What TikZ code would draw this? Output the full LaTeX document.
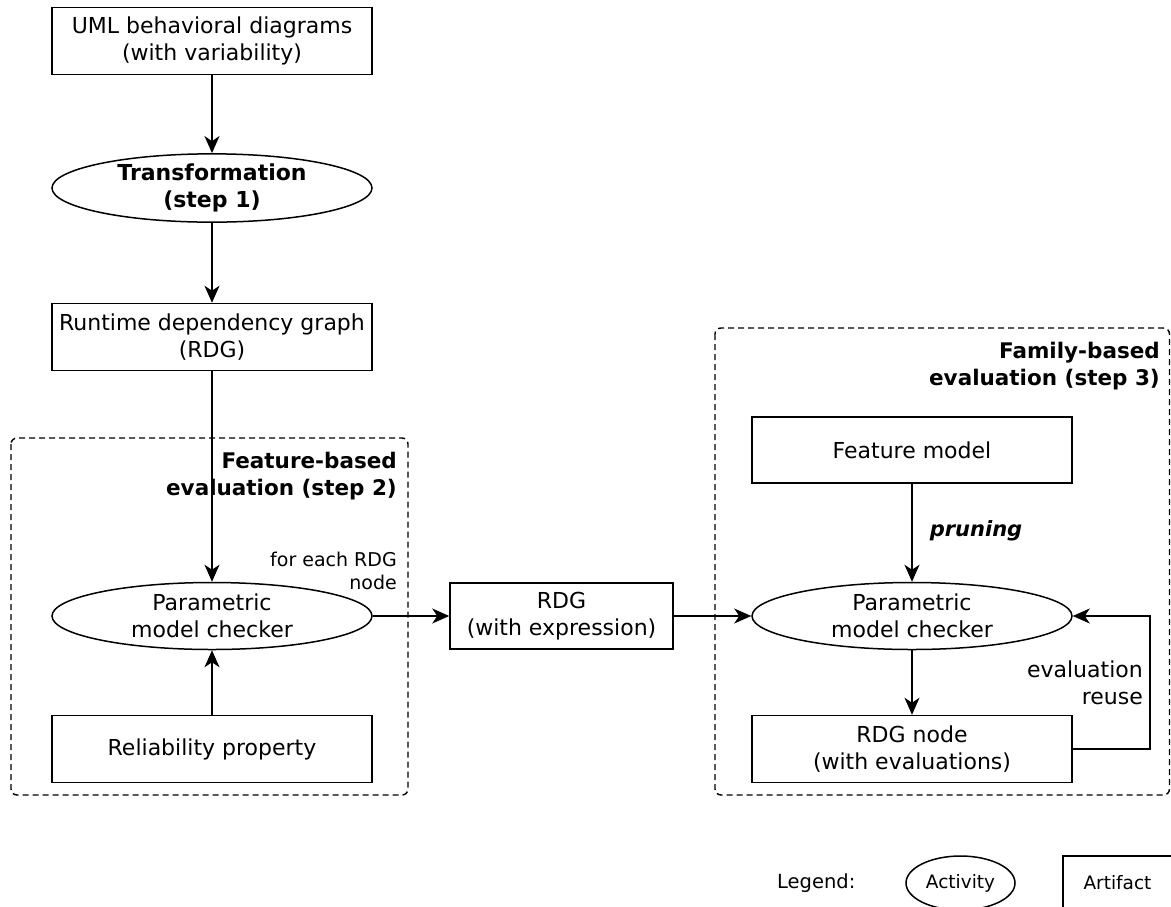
\documentclass[tikz,border=0pt]{standalone}
\usepackage{fontspec}
\setmainfont{DejaVu Sans}
\usetikzlibrary{arrows.meta,shapes.geometric}

\tikzset{
  base/.style={font=\fontsize{22}{27}\selectfont, align=center, inner sep=0pt},
  artifact/.style={base, draw, line width=1.5pt, minimum width=320pt, minimum height=67pt},
  activity/.style={base, draw, ellipse, line width=1.5pt, minimum width=320pt, minimum height=67pt},
  region/.style={draw, line width=1.4pt, dash pattern=on 6pt off 4pt, rounded corners=6pt},
  regiontitle/.style={font=\fontsize{21.5}{27}\selectfont\bfseries, align=right, anchor=east, inner sep=0pt},
  note/.style={font=\fontsize{19}{23}\selectfont, align=right, inner sep=0pt},
  flow/.style={line width=1.6pt, -{Stealth[length=17pt,width=15pt,inset=5pt]}},
}

\begin{document}
\begin{tikzpicture}[x=1pt,y=-1pt]
\useasboundingbox (0,0) rectangle (1171,906);

% grouping regions
\draw[region] (11,438) rectangle (408,795);
\draw[region] (715,328) rectangle (1169.5,795);
\node[regiontitle] (t2) at (397,476) {Feature-based\\evaluation (step 2)};
\node[regiontitle] (t3) at (1160,366) {Family-based\\evaluation (step 3)};

% left column
\node[artifact] (uml) at (212,41) {UML behavioral diagrams\\(with variability)};
\node[activity] (trans) at (212,188) {\textbf{Transformation}\\\textbf{(step 1)}};
\node[artifact] (rdg) at (212,337) {Runtime dependency graph\\(RDG)};
\node[activity] (pmc1) at (212,616) {Parametric\\model checker};
\node[artifact] (rel) at (212,749) {Reliability property};

% middle
\node[artifact, minimum width=223pt, minimum height=66pt] (expr) at (561.5,616) {RDG\\(with expression)};

% right column
\node[artifact, minimum height=66pt] (fm) at (912,450) {Feature model};
\node[activity] (pmc2) at (912,616) {Parametric\\model checker};
\node[artifact] (rdgn) at (912,749) {RDG node\\(with evaluations)};

% labels
\node[note, anchor=east] (each) at (397,571) {for each RDG\\node};
\node[base, font=\fontsize{21}{27}\selectfont\bfseries\itshape] (prun) at (976,531) {pruning};
\node[base, align=right, anchor=east] (reuse) at (1143,683) {evaluation\\reuse};

% connectors
\draw[flow] (uml) -- (trans);
\draw[flow] (trans) -- (rdg);
\draw[flow] (rdg) -- (pmc1);
\draw[flow] (rel) -- (pmc1);
\draw[flow] (pmc1) -- (expr);
\draw[flow] (expr) -- (pmc2);
\draw[flow] (fm) -- (pmc2);
\draw[flow] (pmc2) -- (rdgn);
\draw[flow] (rdgn.east) -- ++(77,0) |- (pmc2.east);

% legend
\node[base, font=\fontsize{19.5}{23}\selectfont, anchor=west] (leg) at (777,883) {Legend:};
\node[activity, font=\fontsize{18.5}{23}\selectfont, minimum width=109pt, minimum height=54pt] (lact) at (960.5,883) {Activity};
\node[artifact, font=\fontsize{18.5}{23}\selectfont, minimum width=109pt, minimum height=54pt] (lart) at (1117.5,883) {Artifact};
\end{tikzpicture}
\end{document}
